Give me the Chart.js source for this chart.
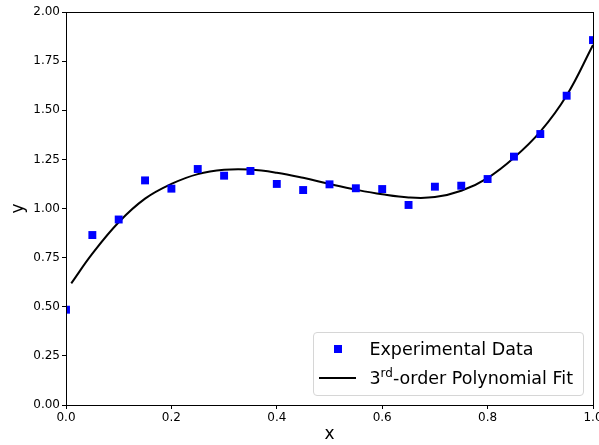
<!DOCTYPE html>
<html>
<head>
<meta charset="utf-8">
<script src="https://cdn.jsdelivr.net/npm/chart.js@4/dist/chart.umd.min.js"></script>
<style>
  body { margin: 0; overflow: hidden; background: #fff; font-family: "DejaVu Sans", sans-serif; }
  #wrap { position: relative; width: 615px; height: 445px; }
  #legend {
    position: absolute; box-sizing: border-box;
    border: 1px solid #d6d6d6; border-radius: 4px; background: rgba(255,255,255,0.8);
    font-size: 17.5px; color: #000; padding: 1px 10px 3px 5px;
  }
  .row { display: flex; align-items: center; height: 29px; white-space: nowrap; }
  .handle { width: 37px; margin-right: 13px; display: flex; justify-content: center; align-items: center; }
  .sq { width: 8px; height: 8px; background: #0000ff; }
  .ln { width: 37px; height: 2px; background: #000; }
  sup { font-size: 12px; line-height: 0; vertical-align: 7px; }
</style>
</head>
<body>
<div id="wrap">
  <canvas id="myChart" width="615" height="445"></canvas>
  <div id="legend"></div>
</div>
<script>
// measured points
const xData = [0, 0.05, 0.1, 0.15, 0.2, 0.25, 0.3, 0.35, 0.4, 0.45, 0.5, 0.55, 0.6, 0.65, 0.7, 0.75, 0.8, 0.85, 0.9, 0.95, 1.0]
const yData = [0.485, 0.865, 0.944, 1.143, 1.101, 1.201, 1.167, 1.191, 1.125, 1.094, 1.123, 1.103, 1.099, 1.018, 1.111, 1.116, 1.150, 1.264, 1.379, 1.574, 1.857]

// fitted curve
const fitX = [0.01, 0.05, 0.1, 0.15, 0.2, 0.25, 0.3, 0.35, 0.4, 0.45, 0.5, 0.55, 0.6, 0.65, 0.7, 0.75, 0.8, 0.85, 0.9, 0.95, 1.0]
const fitY = [0.619, 0.77, 0.93, 1.05, 1.125, 1.175, 1.197, 1.198, 1.182, 1.156, 1.125, 1.096, 1.072, 1.056, 1.058, 1.09, 1.155, 1.258, 1.391, 1.575, 1.832]

const dataLabel = 'Experimental Data'
const fitLabel = '3rd-order Polynomial Fit'

const tickFont = { family: 'DejaVu Sans', size: 12 }
const titleFont = { family: 'DejaVu Sans', size: 17 }

const frame = {
  id: 'frame',
  afterDatasetsDraw(chart) {
    const a = chart.chartArea, c = chart.ctx
    c.save()
    c.strokeStyle = '#000'
    c.lineWidth = 1
    c.strokeRect(Math.round(a.left) + 0.5, Math.round(a.top) + 0.5, Math.round(a.right - a.left), Math.round(a.bottom - a.top))
    c.restore()
  },
  afterRender(chart) {
    const a = chart.chartArea
    const lg = document.getElementById('legend')
    lg.style.right = (chart.width - a.right + 9) + 'px'
    lg.style.bottom = (chart.height - a.bottom + 9) + 'px'
  }
}

const ctx = document.getElementById('myChart')

new Chart(ctx, {
  type: 'scatter',
  data: {
    datasets: [
      {
        label: dataLabel,
        data: xData.map((x, i) => ({ x: x, y: yData[i] })),
        pointStyle: 'rect',
        pointRadius: 5.6,
        pointHoverRadius: 5.6,
        backgroundColor: '#0000ff',
        borderWidth: 0,
        clip: 0
      },
      {
        label: fitLabel,
        data: fitX.map((x, i) => ({ x: x, y: fitY[i] })),
        showLine: true,
        tension: 0.4,
        borderColor: '#000',
        borderWidth: 2,
        pointRadius: 0,
        clip: 0
      }
    ]
  },
  options: {
    responsive: false,
    animation: false,
    layout: { padding: { top: 12, right: 22, left: 0, bottom: 0 } },
    plugins: { legend: { display: false }, tooltip: { enabled: false } },
    scales: {
      x: {
        type: 'linear', min: 0, max: 1,
        afterFit: s => { s.height = 40 },
        ticks: { stepSize: 0.2, font: tickFont, color: '#000', padding: 2, maxRotation: 0,
          callback: v => v.toFixed(1) },
        grid: { drawOnChartArea: false, tickLength: 4, color: '#000' },
        border: { color: '#000', width: 1 },
        title: { display: true, text: 'x', font: titleFont, color: '#000', padding: { top: 4, bottom: 0 } }
      },
      y: {
        min: 0, max: 2,
        afterFit: s => { s.width = 66 },
        ticks: { stepSize: 0.25, font: tickFont, color: '#000', padding: 2,
          callback: v => v.toFixed(2) },
        grid: { drawOnChartArea: false, tickLength: 4, color: '#000' },
        border: { color: '#000', width: 1 },
        title: { display: true, text: 'y', font: titleFont, color: '#000', padding: { top: 8, bottom: 0 } }
      }
    }
  },
  plugins: [frame]
})

// legend as html so the superscript stays real text
document.getElementById('legend').innerHTML =
  '<div class="row"><div class="handle"><div class="sq"></div></div><span>' + dataLabel + '</span></div>' +
  '<div class="row"><div class="handle"><div class="ln"></div></div><span>' +
  fitLabel.replace(/^3rd/, '3<sup>rd</sup>') + '</span></div>'
</script>
</body>
</html>
